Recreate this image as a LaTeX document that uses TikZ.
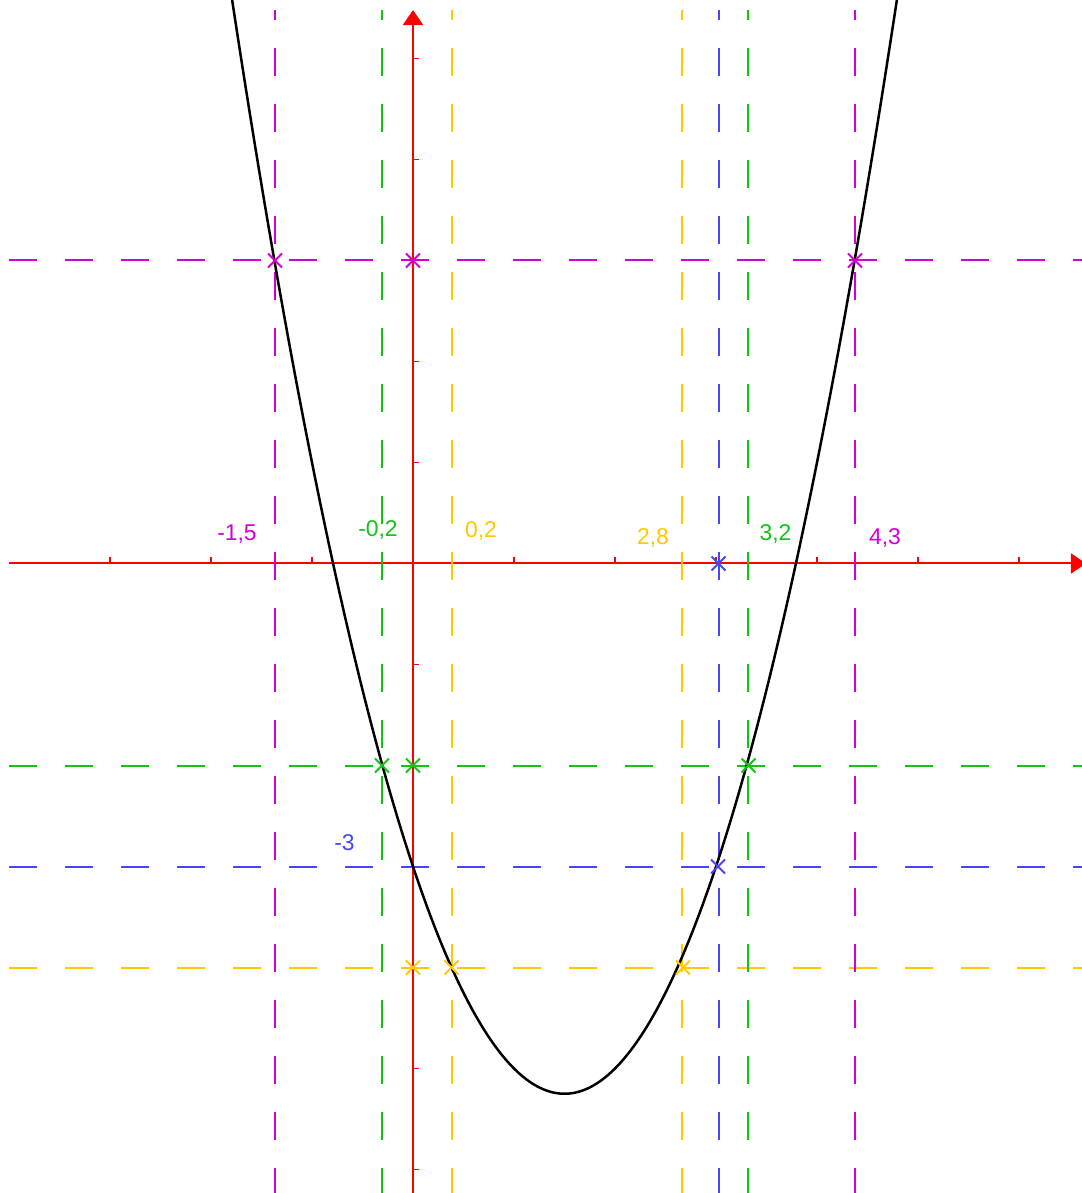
\documentclass[tikz,border=0pt]{standalone}
\usepackage{fontspec}
\setmainfont{Liberation Sans}
\usetikzlibrary{arrows.meta}
\definecolor{cmag}{RGB}{210,0,210}
\definecolor{cgreen}{RGB}{20,195,20}
\definecolor{cblue}{RGB}{70,70,250}
\definecolor{cyell}{RGB}{255,200,0}
\definecolor{cred}{RGB}{255,0,0}
\begin{document}
\begin{tikzpicture}[x=2.02cm,y=2.02cm,
  hline/.style={line width=0.04cm, dash pattern=on 0.56cm off 0.56cm},
  vline/.style={line width=0.04cm, dash pattern=on 0.56cm off 0.56cm, dash phase=0.36cm},
  axisline/.style={cred, line width=0.04cm, -{Triangle[length=0.3cm,width=0.4cm]}},
  tickline/.style={cred, line width=0.03cm},
  lbl/.style={anchor=base, inner sep=0pt, font=\fontsize{13}{15}\selectfont},
  xmark/.pic={\draw[line width=0.04cm] (-1.4mm,-1.4mm)--(1.4mm,1.4mm) (-1.4mm,1.4mm)--(1.4mm,-1.4mm);}]
\useasboundingbox (-4.0891,-6.2327) rectangle (6.6238,5.5792);
% axes
\draw[axisline] (-4,0) -- (6.663,0);
\draw[axisline] (0,-6.2327) -- (0,5.48);
\foreach \i in {-3,-2,-1,1,2,3,4,5,6} \draw[tickline] (\i,0) -- ++(0,0.12cm);
\foreach \j in {-6,-5,-4,-3,-2,-1,1,2,3,4,5} \draw[tickline] (0,\j) -- ++(0.12cm,0);
% horizontal dashed lines
\draw[hline, cmag] (-4,3) -- (6.6238,3);
\draw[hline, cgreen] (-4,-2) -- (6.6238,-2);
\draw[hline, cblue] (-4,-3) -- (6.6238,-3);
\draw[hline, cyell] (-4,-4) -- (6.6238,-4);
% vertical dashed lines
\foreach \x in {-1.366,4.376} \draw[vline, cmag] (\x,5.48) -- (\x,-6.2327);
\foreach \x in {-0.307,3.317} \draw[vline, cgreen] (\x,5.48) -- (\x,-6.2327);
\draw[vline, cblue] (3.025,5.48) -- (3.025,-6.2327);
\foreach \x in {0.386,2.663} \draw[vline, cyell] (\x,5.48) -- (\x,-6.2327);
% parabola
\begin{scope}
\clip (-4.0891,-6.2327) rectangle (6.6238,5.5792);
\draw[black, line width=0.05cm, smooth, samples=200, domain=-1.82:4.82] plot (\x,{\x*\x-3*\x-3});
\end{scope}
% markers
\foreach \p in {(-1.366,3),(0,3),(4.376,3)} \pic[cmag] at \p {xmark};
\foreach \p in {(-0.307,-2),(0,-2),(3.322,-2)} \pic[cgreen] at \p {xmark};
\foreach \p in {(3.025,0),(3.02,-3)} \pic[cblue] at \p {xmark};
\foreach \p in {(0,-4),(0.381,-4),(2.673,-4)} \pic[cyell] at \p {xmark};
% labels
\node[lbl, text=cmag] (lA) at (-1.743,0.223) {-1,5};
\node[lbl, text=cgreen] (lB) at (-0.347,0.272) {-0,2};
\node[lbl, text=cyell] (lC) at (0.673,0.257) {0,2};
\node[lbl, text=cyell] (lD) at (2.376,0.188) {2,8};
\node[lbl, text=cgreen] (lE) at (3.589,0.223) {3,2};
\node[lbl, text=cmag] (lF) at (4.673,0.188) {4,3};
\node[lbl, text=cblue] (lG) at (-0.678,-2.837) {-3};
\end{tikzpicture}
\end{document}
